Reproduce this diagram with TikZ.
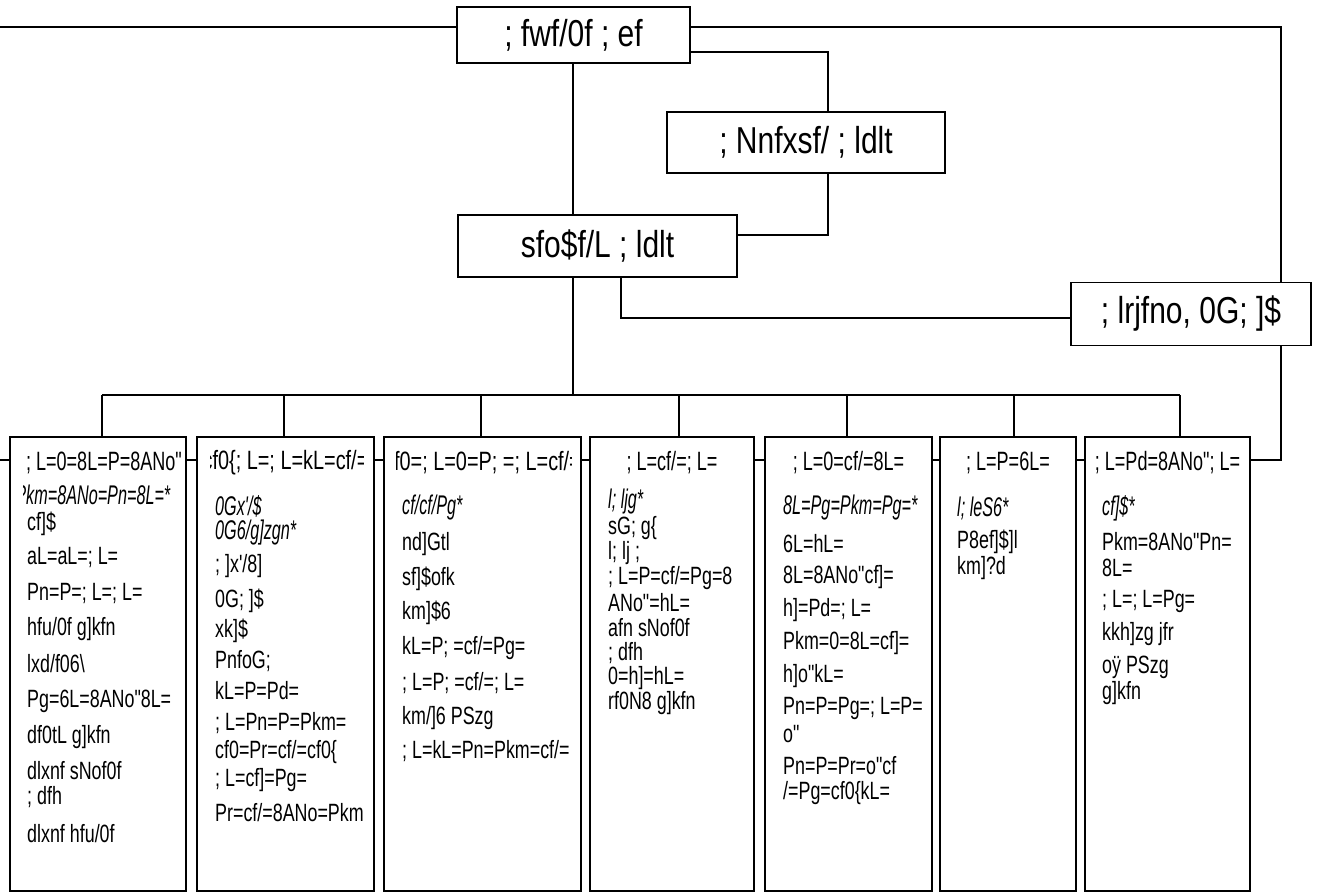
\documentclass[tikz,border=0pt]{standalone}
\usepackage{fontspec}
\setmainfont{Liberation Sans}[FakeStretch=0.715, Ligatures=TeXOff]
\newfontfamily\topfnt{Liberation Sans}[FakeStretch=0.8, Ligatures=TeXOff]
\newfontfamily\headfnt{Liberation Sans}[FakeStretch=0.68, Ligatures=TeXOff]
\newfontfamily\headwfnt{Liberation Sans}[FakeStretch=0.75, Ligatures=TeXOff]
\newfontfamily\itfnt{Liberation Sans Italic}[FakeStretch=0.6, Ligatures=TeXOff]
\begin{document}
\begin{tikzpicture}[x=1pt,y=-1pt]
\tikzset{
 conn/.style={line width=1.5pt},
 topbox/.style={draw, line width=1.8pt, fill=white, inner sep=0pt, font=\topfnt\fontsize{37.5}{39}\selectfont},
 colbox/.style={draw, line width=1.8pt, fill=white, inner sep=0pt, minimum height=454pt},
 head/.style={inner sep=0pt, font=\headfnt\fontsize{26.5}{28}\selectfont},
 headw/.style={inner sep=0pt, font=\headwfnt\fontsize{26.5}{28}\selectfont},
 body/.style={inner sep=0pt, anchor=west, font=\fontsize{25}{27}\selectfont},
 ibody/.style={inner sep=0pt, anchor=west, font=\itfnt\fontsize{27}{29}\selectfont},
}
\useasboundingbox (0,0) rectangle (1321,894);
\fill[white] (0,0) rectangle (1321,894);

% free ends
\coordinate (Ltop) at (0,27);
\coordinate (Lmid) at (0,460);
\coordinate (Rtop) at (1281,27);
\coordinate (Rmid) at (1281,460);
\coordinate (busL) at (102,395);
\coordinate (busR) at (1180,395);

% lines behind the boxes
\draw[conn] (Lmid) -- (Rmid) -- (Rtop) -- (573,27);
\draw[conn] (Ltop) -- (573,27);

% top level boxes
\node[topbox, minimum width=233pt, minimum height=56pt] (top) at (573.5,35) {; fwf/0f ; ef};
\node[topbox, minimum width=278pt, minimum height=61pt] (nnf) at (806,142.5) {; Nnfxsf/ ; ldlt};
\node[topbox, minimum width=279pt, minimum height=62pt] (sfo) at (597.5,246) {sfo\$f/L ; ldlt};
\node[topbox, minimum width=240pt, minimum height=63pt] (lrj) at (1191,314) {; lrjfno, 0G; ]\$};

% connectors among top boxes
\coordinate (v1) at (573,0);
\draw[conn] (top.south -| v1) -- (sfo.north -| v1);
\draw[conn] (sfo.south -| v1) -- (busL -| v1);
\coordinate (c1) at (828,52);
\draw[conn] (top.east |- c1) -- (c1) -- (nnf.north -| c1);
\coordinate (c2) at (828,235);
\draw[conn] (nnf.south -| c2) -- (c2) -- (sfo.east |- c2);
\coordinate (c3) at (621,318);
\draw[conn] (sfo.south -| c3) -- (c3) -- (lrj.west |- c3);
\draw[conn] (lrj.south -| Rmid) -- (Rmid);
\draw[conn] (lrj.north -| Rtop) -- (Rtop);

% bus
\draw[conn] (busL) -- (busR);

% column boxes
\node[colbox, minimum width=176pt] (k1) at (98,664) {};
\node[colbox, minimum width=177pt] (k2) at (285.5,664) {};
\node[colbox, minimum width=197pt] (k3) at (482.5,664) {};
\node[colbox, minimum width=164pt] (k4) at (672,664) {};
\node[colbox, minimum width=167pt] (k5) at (848.5,664) {};
\node[colbox, minimum width=136pt] (k6) at (1008,664) {};
\node[colbox, minimum width=165pt] (k7) at (1167.5,664) {};

\foreach \k/\xx in {k1/102,k2/284,k3/481,k4/679,k5/847,k6/1014,k7/1180}{
  \draw[conn] (\xx,395) -- (\k.north -| \xx,0);
}

% box 1
\begin{scope}
\clip (23,440) rectangle (182,889);
\node[head] (h1) at (104,463) {; L=0=8L=P=8ANo"};
\node[ibody] (a1) at (17,495) {?km=8ANo=Pn=8L=*};
\node[body] (a2) at (27,524) {cf]\$};
\node[body] (a3) at (27,557) {aL=aL=; L=};
\node[body] (a4) at (27,593) {Pn=P=; L=; L=};
\node[body] (a5) at (27,629) {hfu/0f g]kfn};
\node[body] (a6) at (27,664) {lxd/f06\textbackslash};
\node[body] (a7) at (27,701) {Pg=6L=8ANo"8L=};
\node[body] (a8) at (27,737) {df0tL g]kfn};
\node[body] (a9) at (27,771) {dlxnf sNof0f};
\node[body] (a10) at (27,797) {; dfh};
\node[body] (a11) at (27,834) {dlxnf hfu/0f};
\end{scope}

% box 2
\begin{scope}
\clip (210,440) rectangle (363,889);
\node[headw] (h2) at (285.5,463) {cf0\{; L=; L=kL=cf/=};
\node[ibody] (b1) at (215,506) {0Gx'/\$};
\node[ibody] (b2) at (215,533) {0G6/g]zgn*};
\node[body] (b3) at (215,566) {; ]x'/8]};
\node[body] (b4) at (215,601) {0G; ]\$};
\node[body] (b5) at (215,631) {xk]\$};
\node[body] (b6) at (215,661) {PnfoG;};
\node[body] (b7) at (215,691) {kL=P=Pd=};
\node[body] (b8) at (215,723) {; L=Pn=P=Pkm=};
\node[body] (b9) at (215,752) {cf0=Pr=cf/=cf0\{};
\node[body] (b10) at (215,780) {; L=cf]=Pg=};
\node[body] (b11) at (215,813) {Pr=cf/=8ANo=Pkm=};
\end{scope}

% box 3
\begin{scope}
\clip (396,440) rectangle (571,889);
\node[headw] (h3) at (482.5,463) {cf0=; L=0=P; =; L=cf/=};
\node[ibody] (c1t) at (402,508) {cf/cf/Pg*};
\node[body] (c2t) at (402,544) {nd]Gtl};
\node[body] (c3t) at (402,579) {sf]\$ofk};
\node[body] (c4t) at (402,613) {km]\$6};
\node[body] (c5t) at (402,648) {kL=P; =cf/=Pg=};
\node[body] (c6t) at (402,683) {; L=P; =cf/=; L=};
\node[body] (c7t) at (402,718) {km/]6 PSzg};
\node[body] (c8t) at (402,751) {; L=kL=Pn=Pkm=cf/=};
\end{scope}

% box 4
\node[head] (h4) at (672,463) {; L=cf/=; L=};
\node[ibody] (d1) at (608,502) {l; ljg*};
\node[body] (d2) at (608,528) {sG; g\{};
\node[body] (d3) at (608,553) {l; lj ;};
\node[body] (d4) at (608,578) {; L=P=cf/=Pg=8};
\node[body] (d5) at (608,603) {ANo"=hL=};
\node[body] (d6) at (608,628) {afn sNof0f};
\node[body] (d7) at (608,653) {; dfh};
\node[body] (d8) at (608,678) {0=h]=hL=};
\node[body] (d9) at (608,703) {rf0N8 g]kfn};

% box 5
\node[head] (h5) at (848.5,463) {; L=0=cf/=8L=};
\node[ibody] (e1) at (783,508) {8L=Pg=Pkm=Pg=*};
\node[body] (e2) at (783,544) {6L=hL=};
\node[body] (e3) at (783,577) {8L=8ANo"cf]=};
\node[body] (e4) at (783,610) {h]=Pd=; L=};
\node[body] (e5) at (783,643) {Pkm=0=8L=cf]=};
\node[body] (e6) at (783,676) {h]o"kL=};
\node[body] (e7) at (783,708) {Pn=P=Pg=; L=P=};
\node[body] (e8) at (783,734) {o"};
\node[body] (e9) at (783,766) {Pn=P=Pr=o"cf};
\node[body] (e10) at (783,793) {/=Pg=cf0\{kL=};

% box 6
\node[head] (h6) at (1008,463) {; L=P=6L=};
\node[ibody] (f1) at (957,508) {l; leS6*};
\node[body] (f2) at (957,542) {P8ef]\$]l};
\node[body] (f3) at (957,568) {km]?d};

% box 7
\node[head] (h7) at (1167.5,463) {; L=Pd=8ANo"; L=};
\node[ibody] (g1) at (1102,508) {cf]\$*};
\node[body] (g2) at (1102,542) {Pkm=8ANo"Pn=};
\node[body] (g3) at (1102,568) {8L=};
\node[body] (g4) at (1102,601) {; L=; L=Pg=};
\node[body] (g5) at (1102,634) {kkh]zg jfr};
\node[body] (g6) at (1102,667) {oÿ PSzg};
\node[body] (g7) at (1102,693) {g]kfn};
\end{tikzpicture}
\end{document}
